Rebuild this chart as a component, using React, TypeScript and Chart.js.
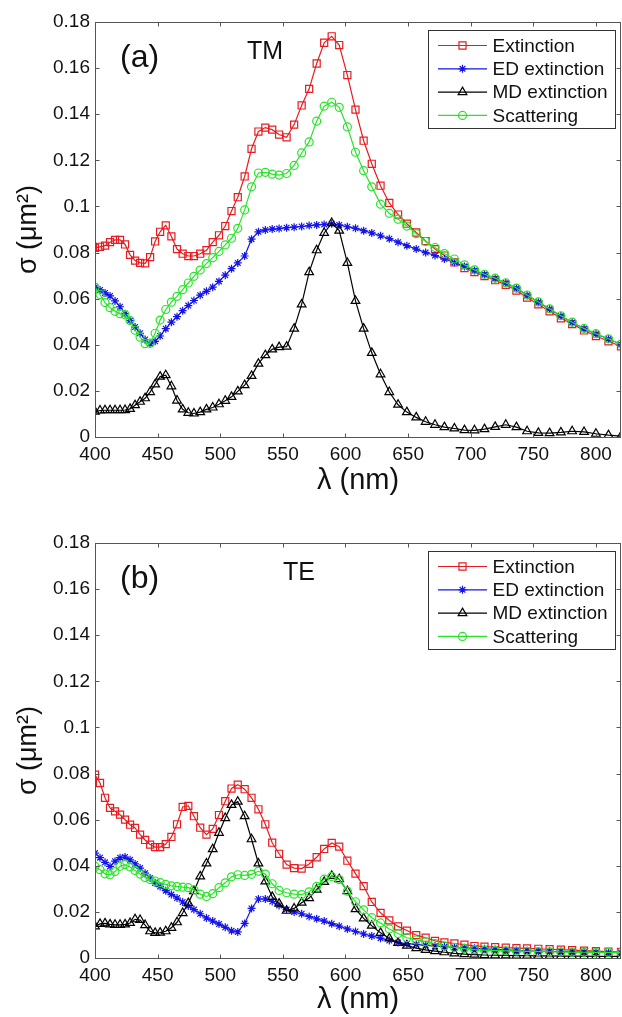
import React, { useEffect, useRef } from 'react';
import { Chart, registerables } from 'chart.js';

Chart.register(...registerables);

const FONT = "'Liberation Sans', Arial, sans-serif";

// ---------- data ----------
const WAVELENGTH = [
  400, 404, 408, 412, 416, 420, 424, 428, 432, 436, 440, 444, 448, 452,
  456.5, 461, 465.5, 470, 474.5, 479,
  484, 489, 494, 499, 504, 509, 514,
  519.5, 525, 530.5, 536, 541.5, 547,
  553, 559, 565, 571, 577, 583, 589, 595,
  601.5, 608, 614.5, 621,
  628, 635, 642, 649,
  656.5, 664, 671.5, 679,
  687, 695, 703, 711,
  719.5, 728, 736.5, 745,
  754, 763, 772, 781,
  790.5, 800, 810, 820,
];

const TM_EXTINCTION = [
  0.082, 0.0825, 0.083, 0.0845, 0.0855, 0.0855, 0.0835, 0.079, 0.0765, 0.0755, 0.0753, 0.078, 0.0848, 0.089,
  0.0918, 0.087, 0.0815, 0.0795, 0.0785, 0.0785,
  0.0795, 0.081, 0.0845, 0.0875, 0.0915, 0.098, 0.104,
  0.113, 0.125, 0.1325, 0.1342, 0.1333, 0.1312,
  0.13, 0.1355, 0.1438, 0.151, 0.162, 0.171, 0.1738, 0.17,
  0.157, 0.142, 0.1285, 0.1185,
  0.109, 0.1015, 0.0965, 0.0925,
  0.0887, 0.085, 0.0815, 0.0787,
  0.0757, 0.0733, 0.0715, 0.0698,
  0.068, 0.066, 0.0635, 0.0605,
  0.0575, 0.0545, 0.0515, 0.049,
  0.0462, 0.0438, 0.0415, 0.0393,
];

const TM_ED_EXTINCTION = [
  0.065, 0.0638, 0.0625, 0.0612, 0.059, 0.0565, 0.0535, 0.0505, 0.0477, 0.045, 0.0423, 0.0405, 0.0415, 0.0438,
  0.047, 0.0498, 0.0522, 0.0548, 0.057, 0.0592,
  0.0615, 0.0632, 0.065, 0.0675, 0.0702, 0.073, 0.0755,
  0.0785, 0.0858, 0.089, 0.0898, 0.0902, 0.0904,
  0.0908, 0.091, 0.0913, 0.0917, 0.092, 0.0922, 0.0925, 0.092,
  0.0912, 0.0905, 0.0895, 0.0885,
  0.0873, 0.086, 0.0845, 0.083,
  0.0815, 0.08, 0.0787, 0.0772,
  0.0757, 0.074, 0.0722, 0.0705,
  0.0688, 0.0668, 0.0645, 0.0615,
  0.0585, 0.0555, 0.0525, 0.0497,
  0.047, 0.0447, 0.0425, 0.0402,
];

const TM_MD_EXTINCTION = [
  0.011, 0.0115, 0.0116, 0.0116, 0.0116, 0.0116, 0.0117, 0.0122, 0.0138, 0.0153, 0.0168, 0.0195, 0.0228, 0.0262,
  0.0268, 0.022, 0.0158, 0.012, 0.0105, 0.0102,
  0.0108, 0.012, 0.0128, 0.0142, 0.0157, 0.0174, 0.0198,
  0.0225, 0.0265, 0.0318, 0.0355, 0.038, 0.039,
  0.0392, 0.047, 0.0575, 0.0715, 0.081, 0.0885, 0.0928, 0.0895,
  0.0755, 0.059, 0.047, 0.0365,
  0.0272, 0.0195, 0.014, 0.0108,
  0.0085, 0.0066, 0.0053, 0.0043,
  0.0037, 0.003, 0.0029, 0.0034,
  0.0044, 0.0053, 0.0043, 0.0025,
  0.0018, 0.0017, 0.002, 0.0025,
  0.0022, 0.0014, 0.0008, 0.0004,
];

const TM_SCATTERING = [
  0.065, 0.0618, 0.0583, 0.0561, 0.0545, 0.0535, 0.053, 0.0505, 0.0463, 0.0433, 0.0405, 0.0407, 0.045, 0.0507,
  0.0553, 0.0585, 0.061, 0.0639, 0.0668, 0.0697,
  0.0724, 0.0752, 0.0778, 0.0805, 0.0833, 0.0862, 0.0905,
  0.0985, 0.1085, 0.1145, 0.1148, 0.114, 0.1136,
  0.1143, 0.1178, 0.1232, 0.128, 0.137, 0.1435, 0.1452, 0.143,
  0.1345, 0.1235, 0.1155, 0.1085,
  0.101, 0.097, 0.0945, 0.0915,
  0.0882, 0.0848, 0.0822, 0.0795,
  0.0772, 0.0747, 0.0725, 0.0706,
  0.0689, 0.0669, 0.0646, 0.0616,
  0.0586, 0.0556, 0.0526, 0.0498,
  0.0471, 0.0448, 0.0426, 0.0403,
];

const TE_EXTINCTION = [
  0.0795, 0.0759, 0.0695, 0.0651, 0.0636, 0.0622, 0.06, 0.0578, 0.0564, 0.0535, 0.0512, 0.0492, 0.0481, 0.0481,
  0.0494, 0.0525, 0.058, 0.0655, 0.066, 0.0615,
  0.0565, 0.0535, 0.056, 0.062, 0.068, 0.0735, 0.0752,
  0.0732, 0.0695, 0.0645, 0.058, 0.05, 0.0452,
  0.0405, 0.039, 0.0388, 0.0408, 0.0437, 0.0473, 0.0499, 0.0483,
  0.0422, 0.0366, 0.0312, 0.0243,
  0.0196, 0.0163, 0.0137, 0.0119,
  0.0099, 0.0088, 0.0074, 0.0068,
  0.0063, 0.0058, 0.0052, 0.0049,
  0.0047, 0.0045, 0.0043, 0.0042,
  0.004, 0.0038, 0.0036, 0.0034,
  0.0032, 0.003, 0.0028, 0.0026,
];

const TE_ED_EXTINCTION = [
  0.0455, 0.0435, 0.0415, 0.0397, 0.042, 0.0435, 0.0438, 0.0426, 0.0408, 0.039, 0.0368, 0.0347, 0.0325, 0.031,
  0.0292, 0.0275, 0.026, 0.0243, 0.0226, 0.021,
  0.0192, 0.0174, 0.016, 0.0147, 0.0133, 0.0118, 0.0113,
  0.015, 0.0215, 0.0256, 0.0256, 0.0245, 0.0228,
  0.021, 0.0199, 0.0192, 0.018, 0.017, 0.016, 0.0149, 0.0138,
  0.0126, 0.0115, 0.0104, 0.0095,
  0.0086, 0.0076, 0.0067, 0.0062,
  0.0059, 0.0055, 0.0052, 0.0049,
  0.0046, 0.0044, 0.0042, 0.004,
  0.0037, 0.0035, 0.0033, 0.0031,
  0.003, 0.0029, 0.0028, 0.0027,
  0.0026, 0.0025, 0.0024, 0.0023,
];

const TE_MD_EXTINCTION = [
  0.0137, 0.0148, 0.015, 0.0146, 0.0144, 0.0144, 0.0146, 0.0152, 0.0168, 0.0165, 0.0143, 0.0116, 0.0109, 0.011,
  0.0116, 0.0131, 0.0155, 0.0195, 0.0238, 0.029,
  0.0354, 0.041, 0.0472, 0.0543, 0.0607, 0.0664, 0.0678,
  0.0615, 0.0515, 0.041, 0.0332, 0.0265, 0.0236,
  0.0205, 0.0215, 0.024, 0.026, 0.0297, 0.033, 0.0356, 0.0342,
  0.029, 0.0212, 0.0172, 0.014,
  0.0109, 0.0085, 0.0066, 0.0054,
  0.0043, 0.0035, 0.003, 0.0025,
  0.002, 0.0017, 0.0015, 0.0013,
  0.0012, 0.0011, 0.001, 0.001,
  0.0009, 0.0009, 0.0008, 0.0008,
  0.0008, 0.0007, 0.0007, 0.0007,
];

const TE_SCATTERING = [
  0.0397, 0.0383, 0.0365, 0.0361, 0.0375, 0.0398, 0.0405, 0.0395, 0.038, 0.0364, 0.0349, 0.034, 0.0334, 0.0327,
  0.0319, 0.0313, 0.031, 0.0307, 0.0305, 0.0296,
  0.0277, 0.0267, 0.0279, 0.0305, 0.0326, 0.0352, 0.0361,
  0.0358, 0.0363, 0.0376, 0.0364, 0.0322, 0.0293,
  0.0283, 0.0277, 0.0275, 0.0287, 0.0311, 0.0342, 0.0354, 0.034,
  0.029, 0.0244, 0.0209, 0.0175,
  0.0152, 0.0126, 0.0106, 0.0088,
  0.0078, 0.007, 0.0063, 0.0053,
  0.0046, 0.0041, 0.0036, 0.0034,
  0.0032, 0.0031, 0.003, 0.0029,
  0.0028, 0.0027, 0.0026, 0.0025,
  0.0025, 0.0024, 0.0024, 0.0023,
];

const SERIES_LABELS = ['Extinction', 'ED extinction', 'MD extinction', 'Scattering'];
const X_TICKS = [400, 450, 500, 550, 600, 650, 700, 750, 800];
const X_TICK_LABELS = ['400', '450', '500', '550', '600', '650', '700', '750', '800'];
const Y_TICKS = [0, 0.02, 0.04, 0.06, 0.08, 0.1, 0.12, 0.14, 0.16, 0.18];
const Y_TICK_LABELS = ['0', '0.02', '0.04', '0.06', '0.08', '0.1', '0.12', '0.14', '0.16', '0.18'];
const X_TITLE = 'λ (nm)';
const Y_TITLE = 'σ (μm²)';

// ---------- styles ----------
const STYLES = [
  { color: 'rgb(232,28,32)', pointStyle: 'rect', radius: 5, order: 3 },
  { color: 'rgb(20,20,235)', pointStyle: 'star', radius: 4, order: 2 },
  { color: 'rgb(0,0,0)', pointStyle: 'triangle', radius: 5, order: 1 },
  { color: 'rgb(40,228,40)', pointStyle: 'circle', radius: 4, order: 0 },
];
const LINE_WIDTH = 1.2;
const AXIS_COLOR = '#555';
const TEXT_COLOR = '#111';

function drawMarker(ctx: CanvasRenderingContext2D, style: string, x: number, y: number, r: number) {
  ctx.beginPath();
  if (style === 'rect') {
    const s = r * Math.SQRT1_2;
    ctx.rect(x - s, y - s, 2 * s, 2 * s);
  } else if (style === 'circle') {
    ctx.arc(x, y, r, 0, Math.PI * 2);
  } else if (style === 'triangle') {
    const a = (2 * Math.PI) / 3;
    ctx.moveTo(x, y - r);
    ctx.lineTo(x + r * Math.sin(a), y - r * Math.cos(a));
    ctx.lineTo(x + r * Math.sin(2 * a), y - r * Math.cos(2 * a));
    ctx.closePath();
  } else {
    for (let k = 0; k < 4; k++) {
      const ang = (k * Math.PI) / 4;
      ctx.moveTo(x - Math.cos(ang) * r, y - Math.sin(ang) * r);
      ctx.lineTo(x + Math.cos(ang) * r, y + Math.sin(ang) * r);
    }
  }
  ctx.stroke();
}

const framePlugin = {
  id: 'matlabFrame',
  afterDatasetsDraw(chart: any) {
    const { ctx, chartArea: a, scales } = chart;
    const L = Math.round(a.left) + 0.5;
    const R = Math.round(a.right) - 0.5;
    const T = Math.round(a.top) + 0.5;
    const B = Math.round(a.bottom) + 0.5;
    ctx.save();
    ctx.strokeStyle = AXIS_COLOR;
    ctx.lineWidth = 1;
    ctx.strokeRect(L, T, R - L, B - T);
    ctx.beginPath();
    for (const v of X_TICKS) {
      const px = Math.round(scales.x.getPixelForValue(v)) + 0.5;
      ctx.moveTo(px, B);
      ctx.lineTo(px, B - 4);
      ctx.moveTo(px, T);
      ctx.lineTo(px, T + 4);
    }
    for (const v of Y_TICKS) {
      const py = Math.round(scales.y.getPixelForValue(v)) + 0.5;
      ctx.moveTo(L, py);
      ctx.lineTo(L + 4, py);
      ctx.moveTo(R, py);
      ctx.lineTo(R - 4, py);
    }
    ctx.stroke();
    ctx.restore();
  },
};

const legendPlugin = {
  id: 'matlabLegend',
  afterDraw(chart: any, _args: any, opts: any) {
    const ctx: CanvasRenderingContext2D = chart.ctx;
    ctx.save();
    ctx.fillStyle = '#fff';
    ctx.fillRect(428.5, 30.5, 187, 98);
    ctx.strokeStyle = '#333';
    ctx.lineWidth = 1;
    ctx.strokeRect(428.5, 30.5, 187, 98);
    chart.data.datasets.forEach((ds: any, i: number) => {
      const st = STYLES[i];
      const y = 45.5 + i * 23.3;
      ctx.strokeStyle = st.color;
      ctx.lineWidth = LINE_WIDTH;
      ctx.beginPath();
      ctx.moveTo(438, y);
      ctx.lineTo(487, y);
      ctx.stroke();
      drawMarker(ctx, st.pointStyle, 462.5, y, st.radius);
      ctx.fillStyle = TEXT_COLOR;
      ctx.font = `19px ${FONT}`;
      ctx.textBaseline = 'middle';
      ctx.textAlign = 'left';
      ctx.fillText(ds.label, 492.5, y + 1);
    });
    // panel annotations
    ctx.fillStyle = TEXT_COLOR;
    ctx.textBaseline = 'middle';
    ctx.font = `32px ${FONT}`;
    ctx.fillText(opts.tag, 120, 58);
    ctx.font = `25px ${FONT}`;
    ctx.fillText(opts.pol, opts.polX, 52);
    ctx.restore();
  },
};

function makeConfig(series: number[][], tag: string, pol: string, polX: number, xAxisHeight: number): any {
  return {
    type: 'line',
    data: {
      datasets: series.map((vals, i) => ({
        label: SERIES_LABELS[i],
        data: WAVELENGTH.map((w, j) => ({ x: w, y: vals[j] })),
        borderColor: STYLES[i].color,
        borderWidth: LINE_WIDTH,
        pointStyle: STYLES[i].pointStyle,
        pointRadius: STYLES[i].radius,
        pointBorderColor: STYLES[i].color,
        pointBackgroundColor: 'rgba(0,0,0,0)',
        pointBorderWidth: LINE_WIDTH,
        tension: 0,
        fill: false,
        order: STYLES[i].order,
      })),
    },
    options: {
      responsive: false,
      animation: false,
      devicePixelRatio: 1,
      layout: { autoPadding: false, padding: { top: 22, right: 1, left: 0, bottom: 0 } },
      plugins: {
        legend: { display: false },
        tooltip: { enabled: false },
        matlabLegend: { tag, pol, polX },
      },
      scales: {
        x: {
          type: 'linear',
          min: 400,
          max: 820,
          grid: { display: false, drawTicks: false },
          border: { display: false },
          afterBuildTicks: (scale: any) => {
            scale.ticks = X_TICKS.map((v) => ({ value: v }));
          },
          afterFit: (scale: any) => {
            scale.height = xAxisHeight;
            scale.paddingLeft = 0;
            scale.paddingRight = 0;
          },
          ticks: {
            autoSkip: false,
            maxRotation: 0,
            padding: 6,
            color: TEXT_COLOR,
            font: { family: FONT, size: 19 },
            callback: (_v: any, i: number) => X_TICK_LABELS[i],
          },
          title: {
            display: true,
            text: X_TITLE,
            color: TEXT_COLOR,
            font: { family: FONT, size: 29 },
            padding: { top: 0, bottom: 0 },
          },
        },
        y: {
          type: 'linear',
          min: 0,
          max: 0.18,
          grid: { display: false, drawTicks: false },
          border: { display: false },
          afterBuildTicks: (scale: any) => {
            scale.ticks = Y_TICKS.map((v) => ({ value: v }));
          },
          afterFit: (scale: any) => {
            scale.width = 95;
            scale.paddingTop = 0;
            scale.paddingBottom = 0;
          },
          ticks: {
            padding: 5,
            color: TEXT_COLOR,
            font: { family: FONT, size: 19 },
            callback: (_v: any, i: number) => Y_TICK_LABELS[i],
          },
          title: {
            display: true,
            text: Y_TITLE,
            color: TEXT_COLOR,
            font: { family: FONT, size: 27 },
            padding: { top: 12, bottom: 0 },
          },
        },
      },
    },
    plugins: [framePlugin, legendPlugin],
  };
}

function Panel(props: { top: number; height: number; series: number[][]; tag: string; pol: string; polX: number }) {
  const ref = useRef<HTMLCanvasElement>(null);
  useEffect(() => {
    const chart = new Chart(
      ref.current as HTMLCanvasElement,
      makeConfig(props.series, props.tag, props.pol, props.polX, props.height - 437)
    );
    return () => chart.destroy();
  }, []);
  return (
    <canvas
      ref={ref}
      width={622}
      height={props.height}
      style={{ position: 'absolute', left: 0, top: props.top, width: 622, height: props.height }}
    />
  );
}

export default function App() {
  return (
    <div style={{ position: 'absolute', left: 0, top: 0, width: 622, height: 1017, background: '#fff', overflow: 'hidden' }}>
      <Panel
        top={0}
        height={498}
        series={[TM_EXTINCTION, TM_ED_EXTINCTION, TM_MD_EXTINCTION, TM_SCATTERING]}
        tag="(a)"
        pol="TM"
        polX={247}
      />
      <Panel
        top={521}
        height={496}
        series={[TE_EXTINCTION, TE_ED_EXTINCTION, TE_MD_EXTINCTION, TE_SCATTERING]}
        tag="(b)"
        pol="TE"
        polX={283}
      />
    </div>
  );
}
